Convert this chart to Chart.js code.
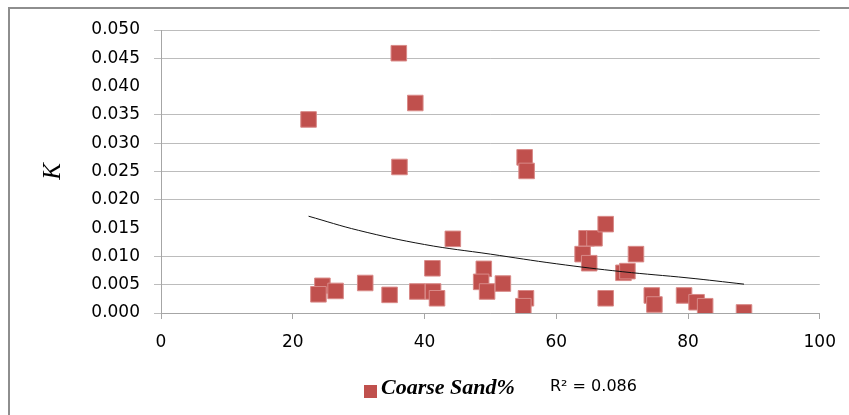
<!DOCTYPE html>
<html>
<head>
<meta charset="utf-8">
<script src="https://cdn.jsdelivr.net/npm/chart.js@4/dist/chart.umd.min.js"></script>
<style>
    html, body { margin: 0; padding: 0; background: #fff; }
    #kChart { display: block; }
</style>
</head>
<body>
<canvas id="kChart" width="849" height="415"></canvas>
<script>
// coarse sand % vs K
const sandPct = [22.4, 36.1, 38.6, 36.2, 55.2, 55.5,
    24.5, 23.9, 26.5, 31.0, 34.7, 38.9, 41.3, 41.9, 41.2, 44.3,
    49.0, 48.6, 49.5, 51.9, 55.4, 55.0,
    64.6, 65.8, 67.5, 64.0, 65.0, 72.1, 70.2, 70.8, 67.5,
    74.5, 74.9, 79.4, 81.3, 82.6, 88.5];
const kValues = [0.0342, 0.0459, 0.0371, 0.0258, 0.0275, 0.0251,
    0.0048, 0.0033, 0.0039, 0.0053, 0.0032, 0.0038, 0.0038, 0.0026, 0.0079, 0.0131,
    0.0078, 0.0055, 0.0038, 0.0052, 0.0026, 0.0012,
    0.0132, 0.0132, 0.0157, 0.0104, 0.0088, 0.0104, 0.0071, 0.0074, 0.0026,
    0.0031, 0.0015, 0.0031, 0.0019, 0.0012, 0.0001];

// trendline as it appears in the picture
const trendX = [22.4, 30, 40, 50, 60, 70, 80, 88.5];
const trendK = [0.0171, 0.0146, 0.0121, 0.0104, 0.0087, 0.0073, 0.0062, 0.0051];

const seriesLabel = 'Coarse Sand%';
const r2Text = 'R\u00B2 = 0.086';
const xTicks = [0, 20, 40, 60, 80, 100];
const yMax = 0.05;
const yStep = 0.005;
// rows that vanished in the original picture
const hiddenRows = [0.040, 0.015];

const markerColor = '#c0504d';
const gridColor = '#bcbcbc';

// frame + legend drawn on top
const framePlugin = {
    id: 'frame',
    afterDraw(chart) {
        const ctx = chart.ctx;
        ctx.save();
        ctx.strokeStyle = '#8e8e8e';
        ctx.lineWidth = 2;
        ctx.beginPath();
        ctx.moveTo(9, 415);
        ctx.lineTo(9, 8);
        ctx.lineTo(849, 8);
        ctx.stroke();

        // legend
        ctx.fillStyle = markerColor;
        ctx.fillRect(364, 385, 13, 13);
        ctx.fillStyle = '#000';
        ctx.textBaseline = 'middle';
        ctx.textAlign = 'left';
        ctx.font = 'italic bold 22px "Liberation Serif", serif';
        ctx.fillText(seriesLabel, 381, 388);
        ctx.font = '16px "DejaVu Sans", sans-serif';
        ctx.fillText(r2Text, 550, 387);
        ctx.restore();
    }
};

const ctx = document.getElementById('kChart').getContext('2d');
new Chart(ctx, {
    type: 'scatter',
    data: {
        datasets: [{
            label: seriesLabel,
            data: sandPct.map((x, i) => ({ x: x, y: kValues[i] })),
            pointStyle: 'rect',
            pointRadius: 11,
            backgroundColor: markerColor,
            borderColor: '#d98a88',
            borderWidth: 1,
            order: 2
        }, {
            label: 'trend',
            type: 'line',
            data: trendX.map((x, i) => ({ x: x, y: trendK[i] })),
            showLine: true,
            borderColor: '#111',
            borderWidth: 1,
            pointRadius: 0,
            tension: 0.4,
            fill: false,
            order: 1
        }]
    },
    options: {
        responsive: false,
        animation: false,
        layout: {
            padding: { top: 30, left: 30, right: 28, bottom: 57 }
        },
        plugins: {
            legend: { display: false },
            tooltip: { enabled: false }
        },
        scales: {
            x: {
                type: 'linear',
                min: 0,
                max: 100,
                afterBuildTicks: (scale) => { scale.ticks = xTicks.map(v => ({ value: v })); },
                afterFit: (scale) => { scale.height = 45; },
                border: { color: '#a6a6a6', width: 1 },
                grid: {
                    drawOnChartArea: false,
                    drawTicks: true,
                    tickLength: 6,
                    color: '#a6a6a6'
                },
                ticks: {
                    padding: 13,
                    color: '#000',
                    font: { family: '"DejaVu Sans", sans-serif', size: 17 }
                }
            },
            y: {
                min: 0,
                max: yMax,
                afterFit: (scale) => { scale.width = 131; },
                border: { color: '#a6a6a6', width: 1 },
                grid: {
                    color: (c) => hiddenRows.some(v => Math.abs(c.tick.value - v) < 1e-6) ? 'rgba(0,0,0,0)' : gridColor,
                    tickLength: 7
                },
                ticks: {
                    stepSize: yStep,
                    padding: 14,
                    color: '#000',
                    font: { family: '"DejaVu Sans", sans-serif', size: 17 },
                    callback: (v) => v.toFixed(3)
                },
                title: {
                    display: true,
                    text: 'K',
                    color: '#000',
                    padding: { top: 8, bottom: 0 },
                    font: { family: '"Liberation Serif", serif', size: 25, style: 'italic' }
                }
            }
        }
    },
    plugins: [framePlugin]
});
</script>
</body>
</html>
